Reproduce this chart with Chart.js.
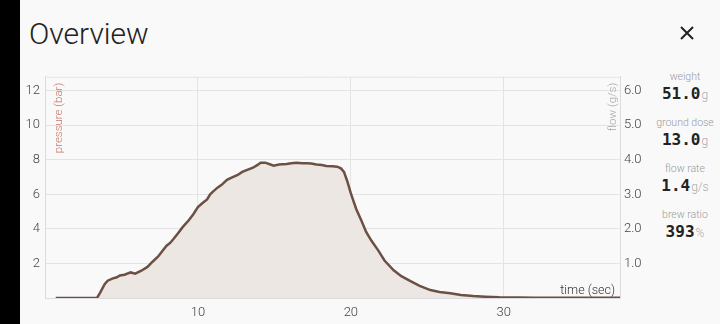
<!DOCTYPE html>
<html>
<head>
<meta charset="utf-8">
<script src="https://cdn.jsdelivr.net/npm/chart.js@4.4.1/dist/chart.umd.min.js"></script>
<style>
  html, body { margin: 0; padding: 0; }
  body { width: 720px; height: 324px; background: #f9f9f9; position: relative; overflow: hidden; font-family: Roboto, "Liberation Sans", sans-serif; }
  .strip { position: absolute; left: 0; top: 0; width: 20px; height: 324px; background: #000; }
  .title { position: absolute; left: 29px; top: 16px; font-size: 30px; font-weight: 300; color: #222; }
  .close { position: absolute; left: 680px; top: 26px; width: 14px; height: 14px; }
  #wrap { position: absolute; left: 20px; top: 64px; width: 625px; height: 258px; }
  .stats { position: absolute; left: 645px; top: 71px; width: 80px; text-align: center; }
  .lbl { font-size: 10.5px; font-weight: 300; color: #999; height: 12px; line-height: 12px; }
  .val { font-family: "DejaVu Sans Mono", monospace; font-weight: bold; font-size: 16px; color: #222; height: 22px; line-height: 22px; margin-bottom: 12px; }
  .val span { font-family: Roboto, sans-serif; font-weight: 300; font-size: 12px; color: #aaa; margin-left: 1px; }
</style>
</head>
<body>
<div class="strip"></div>
<div class="title">Overview</div>
<svg class="close" viewBox="0 0 14 14"><path d="M1 1 L13 13 M13 1 L1 13" stroke="#222" stroke-width="2"/></svg>
<div id="wrap"><canvas id="myChart"></canvas></div>
<div class="stats">
  <div class="lbl">weight</div><div class="val">51.0<span>g</span></div>
  <div class="lbl">ground dose</div><div class="val">13.0<span>g</span></div>
  <div class="lbl">flow rate</div><div class="val">1.4<span>g/s</span></div>
  <div class="lbl">brew ratio</div><div class="val">393<span>%</span></div>
</div>
<script>
const times = [0.7, 1.5, 2.5, 3.4, 3.6, 3.9, 4.1, 4.4, 4.7, 4.9, 5.2, 5.6, 5.9, 6.3, 6.7, 7.0, 7.4, 7.7, 7.95, 8.2,
  8.4, 8.7, 9.0, 9.4, 9.7, 10.0, 10.3, 10.6, 10.8, 11.0, 11.3, 11.55, 11.9, 12.2, 12.6, 12.9, 13.1, 13.6, 13.9, 14.1,
  14.4, 14.7, 14.95, 15.3, 15.8, 16.1, 16.45, 16.8, 17.1, 17.4, 17.75, 18.1, 18.4, 18.8, 19.1, 19.35, 19.55, 19.75, 20.0, 20.35,
  20.7, 21.0, 21.35, 21.8, 22.2, 22.8, 23.3, 23.9, 24.5, 25.2, 25.8, 26.5, 27.2, 28.0, 28.8, 29.7, 31.0, 32.0, 34.0, 36.0, 37.6];
const pressure = [0, 0, 0, 0, 0.3, 0.8, 1.0, 1.12, 1.2, 1.3, 1.35, 1.48, 1.41, 1.58, 1.8, 2.07, 2.4, 2.75, 3.03, 3.2,
  3.41, 3.75, 4.1, 4.5, 4.85, 5.26, 5.5, 5.7, 6.0, 6.17, 6.4, 6.55, 6.84, 6.97, 7.12, 7.3, 7.37, 7.54, 7.7, 7.83,
  7.83, 7.74, 7.66, 7.72, 7.75, 7.8, 7.83, 7.8, 7.8, 7.78, 7.73, 7.7, 7.64, 7.62, 7.6, 7.5, 7.3, 6.8, 6.05, 5.15,
  4.46, 3.82, 3.31, 2.74, 2.17, 1.6, 1.26, 0.98, 0.7, 0.46, 0.35, 0.27, 0.18, 0.11, 0.07, 0.04, 0.03, 0.02, 0.01, 0.01, 0.01];
const timeTicks = [10, 20, 30];
const pressureTicks = [2, 4, 6, 8, 10, 12];
const flowTicks = [1, 2, 3, 4, 5, 6];

const points = times.map((t, i) => ({ x: t, y: pressure[i] }));
const gridColor = '#e4e4e4';
const tickFont = { family: 'Roboto, "Liberation Sans", sans-serif', size: 13, weight: 300 };

const overlay = {
  id: 'overlay',
  afterDraw(chart) {
    const { ctx, chartArea: a } = chart;
    ctx.save();
    ctx.strokeStyle = gridColor;
    ctx.lineWidth = 1;
    ctx.beginPath();
    ctx.moveTo(a.left, a.top + 0.5);
    ctx.lineTo(a.right, a.top + 0.5);
    ctx.stroke();
    ctx.font = '300 11.5px Roboto, "Liberation Sans", sans-serif';
    ctx.textBaseline = 'middle';
    ctx.textAlign = 'right';
    ctx.fillStyle = '#c9786c';
    ctx.save();
    ctx.translate(a.left + 14, a.top + 6);
    ctx.rotate(-Math.PI / 2);
    ctx.fillText('pressure (bar)', 0, 0);
    ctx.restore();
    ctx.fillStyle = '#a9a9a9';
    ctx.save();
    ctx.translate(a.right - 7, a.top + 6);
    ctx.rotate(-Math.PI / 2);
    ctx.fillText('flow (g/s)', 0, 0);
    ctx.restore();
    ctx.font = '300 12.5px Roboto, "Liberation Sans", sans-serif';
    ctx.fillStyle = '#333';
    ctx.textBaseline = 'alphabetic';
    ctx.fillText('time (sec)', a.right - 5, a.bottom - 4);
    ctx.restore();
  }
};

new Chart(document.getElementById('myChart'), {
  type: 'line',
  data: {
    datasets: [{
      data: points,
      yAxisID: 'y',
      borderColor: '#6c5044',
      borderWidth: 2.5,
      backgroundColor: '#ede7e3',
      fill: 'origin',
      pointRadius: 0,
      tension: 0
    }]
  },
  options: {
    responsive: true,
    maintainAspectRatio: false,
    animation: false,
    layout: { padding: { top: 10 } },
    plugins: { legend: { display: false }, tooltip: { enabled: false } },
    scales: {
      x: {
        type: 'linear',
        min: 0,
        max: 37.6,
        afterBuildTicks: s => { s.ticks = timeTicks.map(v => ({ value: v })); },
        afterFit: s => { s.height = 24; },
        grid: { color: gridColor, drawTicks: false },
        border: { color: '#dcdcdc' },
        ticks: { color: '#444', font: tickFont, padding: 7 }
      },
      y: {
        position: 'left',
        min: 0,
        max: 12.8,
        afterBuildTicks: s => { s.ticks = pressureTicks.map(v => ({ value: v })); },
        afterFit: s => { s.width = 25; },
        grid: { color: gridColor, drawTicks: false },
        border: { color: '#dcdcdc' },
        ticks: { color: '#444', font: tickFont, padding: 5 }
      },
      y1: {
        position: 'right',
        min: 0,
        max: 6.4,
        afterBuildTicks: s => { s.ticks = flowTicks.map(v => ({ value: v })); },
        afterFit: s => { s.width = 25; },
        grid: { display: false, drawTicks: false },
        border: { color: '#dcdcdc' },
        ticks: { color: '#444', font: tickFont, padding: 4, callback: v => v.toFixed(1) }
      }
    }
  },
  plugins: [overlay]
});
</script>
</body>
</html>
